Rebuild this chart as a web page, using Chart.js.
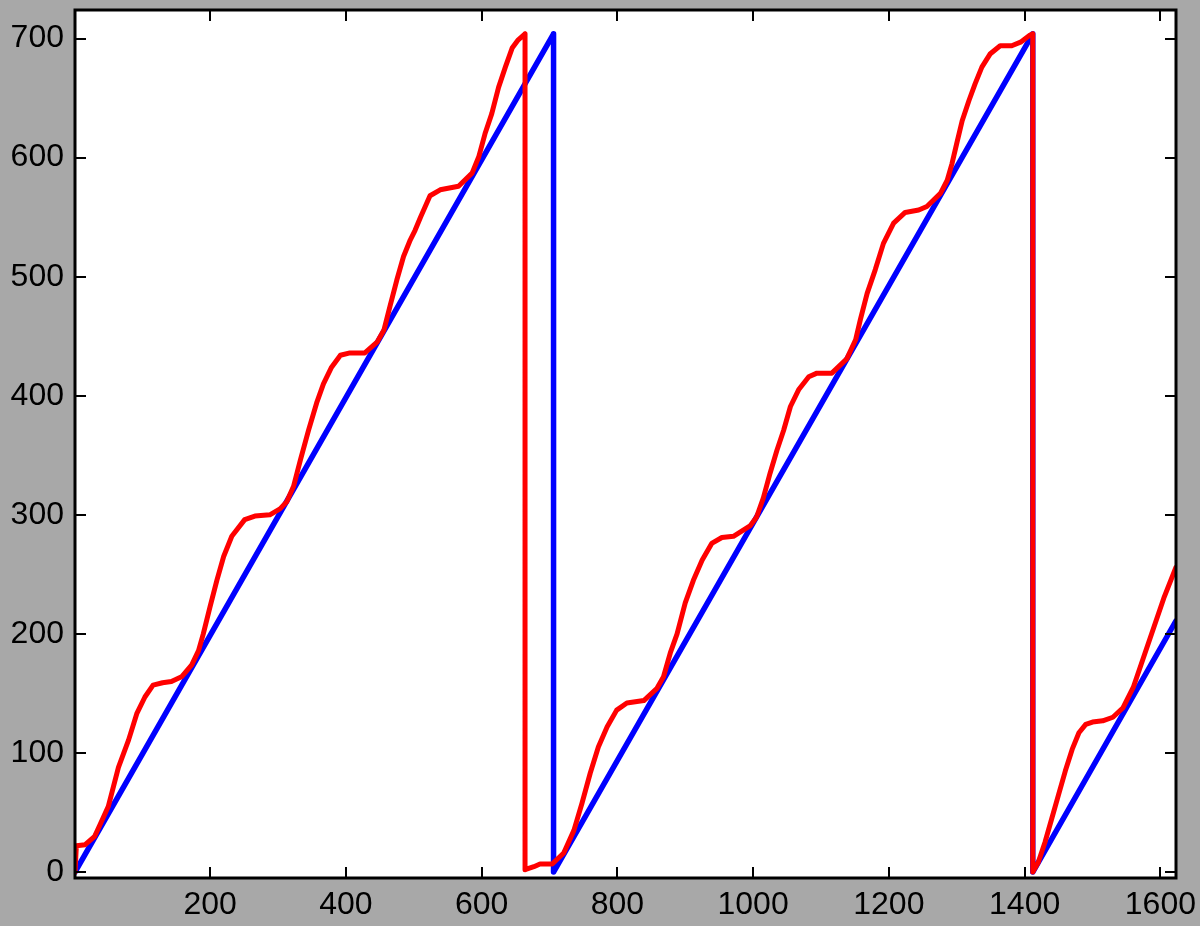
<!DOCTYPE html>
<html>
<head>
<meta charset="utf-8">
<script src="https://cdn.jsdelivr.net/npm/chart.js@4/dist/chart.umd.min.js"></script>
<style>
    html, body { margin: 0; padding: 0; background: #a8a8a8; }
    #wrap { width: 1200px; height: 926px; }
</style>
</head>
<body>
<div id="wrap"><canvas id="saw-chart" width="1200" height="926"></canvas></div>
<script>
// tick positions
const xTickVals = [200, 400, 600, 800, 1000, 1200, 1400, 1600];
const yTickVals = [0, 100, 200, 300, 400, 500, 600, 700];

// blue: reference sawtooth
const blueX = [1, 706, 706, 1412, 1412, 1623];
const blueY = [0, 704, 0, 704, 0, 211];

const redX = [
    1, 3, 16, 30, 38, 50, 65, 80, 92, 104, 116, 130, 143, 158, 173, 183, 190, 200, 210, 220,
    232, 251, 266, 288, 303, 313, 323, 333, 345, 357, 367, 379, 392, 406, 428, 446, 456, 465, 475, 485,
    495, 502, 510, 524, 539, 566, 586, 596, 605, 615, 625, 635, 645, 654, 664, 664,
    677, 686, 704, 721, 736, 748, 760, 772, 785, 799, 814, 839, 858, 868, 878, 888, 900, 912, 925, 939,
    954, 971, 996, 1005, 1015, 1025, 1035, 1045, 1055, 1067, 1082, 1094, 1116, 1138, 1151, 1158, 1168, 1180, 1192, 1207,
    1224, 1244, 1256, 1276, 1286, 1293, 1300, 1308, 1318, 1327, 1337, 1349, 1364, 1381, 1394, 1408, 1412, 1412,
    1420, 1430, 1440, 1450, 1460, 1470, 1480, 1490, 1500, 1515, 1530, 1545, 1560, 1575, 1590, 1605, 1623
];
const redY = [
    0, 22, 23, 30, 40, 55, 88, 111, 133, 147, 157, 159, 160, 164, 174, 186, 200, 223, 245, 265,
    282, 296, 299, 300, 305, 311, 324, 346, 371, 394, 410, 424, 434, 436, 436, 445, 455, 475, 497, 517,
    531, 539, 550, 568, 573, 576, 587, 601, 620, 637, 659, 676, 692, 699, 704, 2,
    4.5, 6.7, 6.7, 16, 35, 58, 83, 105, 122, 136, 142, 144, 154, 164, 184, 200, 226, 245, 262, 276,
    281, 282, 291, 298, 314, 335, 354, 371, 391, 405, 416, 419, 419, 431, 447, 464, 486, 506, 528, 545,
    554, 556, 559, 570, 581, 595, 612, 631, 648, 662, 676, 687, 694, 694, 697, 703, 704, 0,
    8, 25, 45, 65, 85, 103, 117, 124, 126, 127, 130, 138, 155, 180, 205, 230, 256
];

const toPoints = (xs, ys) => xs.map((x, i) => ({ x, y: ys[i] }));

const tickFont = { family: '"Liberation Sans", Arial, sans-serif', size: 32 };

// white plot area + black frame with inward ticks on all four sides
const framePlugin = {
    id: 'frame',
    beforeDraw(chart) {
        const { ctx, chartArea: a } = chart;
        ctx.save();
        ctx.fillStyle = '#a8a8a8';
        ctx.fillRect(0, 0, chart.width, chart.height);
        ctx.fillStyle = '#ffffff';
        ctx.fillRect(a.left, a.top, a.right - a.left, a.bottom - a.top);
        ctx.restore();
    },
    afterDraw(chart) {
        const { ctx, chartArea: a, scales } = chart;
        const len = 11;
        ctx.save();
        ctx.strokeStyle = '#000';
        ctx.lineWidth = 2;
        ctx.beginPath();
        xTickVals.forEach(v => {
            const px = Math.round(scales.x.getPixelForValue(v));
            ctx.moveTo(px, a.bottom); ctx.lineTo(px, a.bottom - len);
            ctx.moveTo(px, a.top); ctx.lineTo(px, a.top + len);
        });
        yTickVals.forEach(v => {
            const py = Math.round(scales.y.getPixelForValue(v));
            ctx.moveTo(a.left, py); ctx.lineTo(a.left + len, py);
            ctx.moveTo(a.right, py); ctx.lineTo(a.right - len, py);
        });
        ctx.stroke();
        ctx.lineWidth = 3;
        ctx.strokeRect(a.left, a.top, a.right - a.left, a.bottom - a.top);
        ctx.restore();
    }
};

new Chart(document.getElementById('saw-chart'), {
    type: 'scatter',
    data: {
        datasets: [
            {
                data: toPoints(redX, redY),
                showLine: true,
                borderColor: '#ff0000',
                borderWidth: 5,
                pointRadius: 0,
                tension: 0,
                borderJoinStyle: 'round',
                borderCapStyle: 'round'
            },
            {
                data: toPoints(blueX, blueY),
                showLine: true,
                borderColor: '#0000ff',
                borderWidth: 5.5,
                pointRadius: 0,
                tension: 0,
                borderJoinStyle: 'round',
                borderCapStyle: 'round'
            }
        ]
    },
    options: {
        responsive: false,
        animation: false,
        layout: { padding: { top: 10, right: 24, left: 0, bottom: 0 } },
        plugins: {
            legend: { display: false },
            tooltip: { enabled: false }
        },
        scales: {
            x: {
                type: 'linear',
                min: 1,
                max: 1623,
                grid: { display: false, drawTicks: false },
                border: { display: false },
                ticks: {
                    font: tickFont, color: '#000', padding: 8, maxRotation: 0, autoSkip: false,
                    callback: v => String(v)
                },
                afterBuildTicks: s => { s.ticks = xTickVals.map(v => ({ value: v })); },
                afterFit: s => { s.height = 48; s.paddingLeft = 0; s.paddingRight = 0; }
            },
            y: {
                type: 'linear',
                min: -5,
                max: 724,
                grid: { display: false, drawTicks: false },
                border: { display: false },
                ticks: { font: tickFont, color: '#000', padding: 11, callback: v => String(v) },
                afterBuildTicks: s => { s.ticks = yTickVals.map(v => ({ value: v })); },
                afterFit: s => { s.width = 75; s.paddingTop = 0; s.paddingBottom = 0; }
            }
        }
    },
    plugins: [framePlugin]
});
</script>
</body>
</html>
